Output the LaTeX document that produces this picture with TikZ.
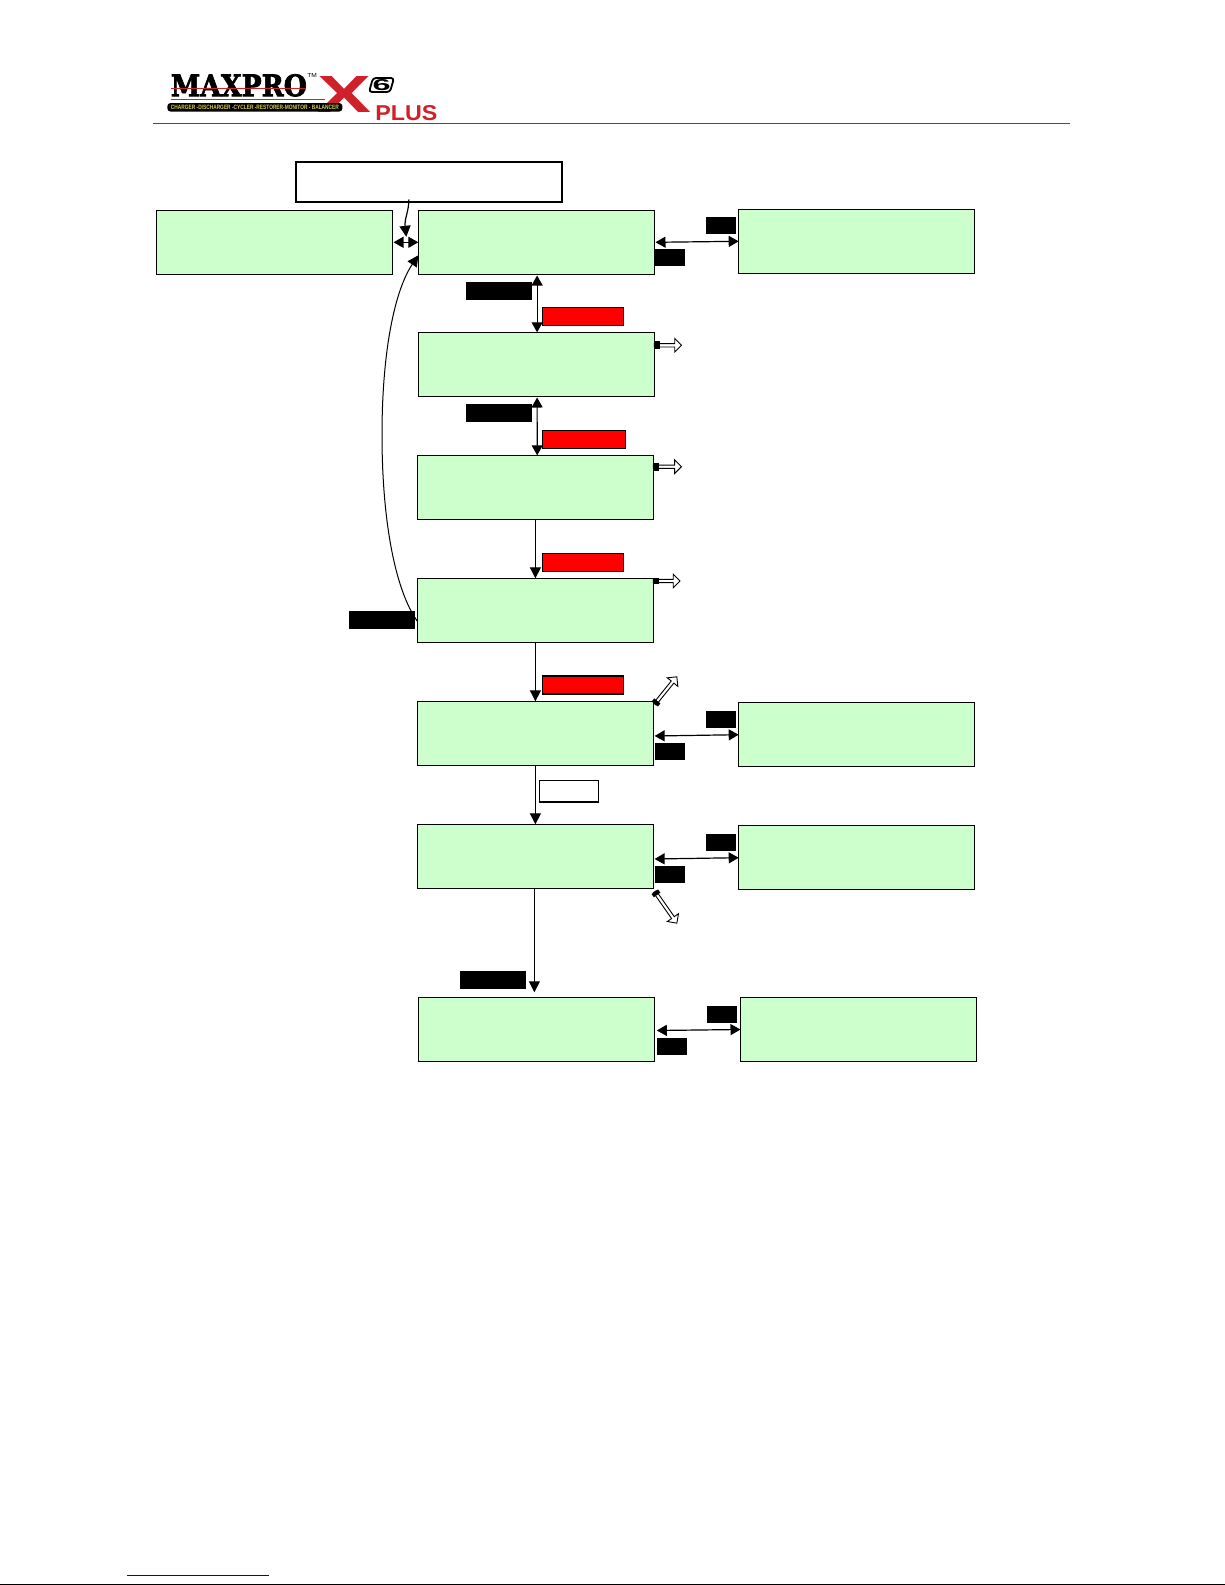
\documentclass[tikz,border=0pt]{standalone}
\usepackage{fontspec}
\usepackage{graphicx}
\setmainfont{Liberation Sans}
\newfontfamily\logofont[BoldFeatures={FakeBold=2.5}]{DejaVu Serif}
\usetikzlibrary{arrows.meta,shapes.arrows,calc}
\definecolor{lcdgreen}{HTML}{CCFFCC}
\definecolor{logored}{HTML}{D0202A}
\definecolor{tagyellow}{HTML}{D8D040}
\definecolor{linkblue}{HTML}{0000C8}
\tikzset{
  x=0.5pt,y=-0.5pt,
  screen/.style={draw=black,line width=0.75pt,fill=lcdgreen,minimum width=118pt,minimum height=32pt,inner sep=0pt,outer sep=0pt,anchor=north west},
  cover/.style={fill=black,inner sep=0pt,outer sep=0pt,anchor=north west},
  keyshort/.style={cover,minimum width=15pt,minimum height=8.7pt},
  keylong/.style={cover,minimum width=33pt,minimum height=9pt},
  redkey/.style={draw=black,line width=0.7pt,fill=red,inner sep=0pt,outer sep=0pt,anchor=north west,minimum width=40.5pt,minimum height=9pt},
  whitekey/.style={draw=black,line width=0.8pt,fill=white,inner sep=0pt,outer sep=0pt,anchor=north west},
  flow/.style={draw=black,line width=0.6pt,-{Triangle[length=5.5pt,width=5.5pt]}},
  both/.style={draw=black,line width=0.6pt,{Triangle[length=5pt,width=5.5pt]}-{Triangle[length=5pt,width=5.5pt]},shorten <=0.6pt},
  blockarrow/.style={single arrow,draw=black,line width=0.45pt,fill=white,inner sep=0pt,outer sep=0pt,minimum width=6.8pt,single arrow head extend=0.7pt,single arrow head indent=0pt,anchor=tail},
  tailbit/.style={fill=black,inner sep=0pt,outer sep=0pt,minimum width=2.6pt,minimum height=4pt,anchor=west},
}
\begin{document}
\begin{tikzpicture}
\useasboundingbox (0,0) rectangle (1225,1585);
\fill[white] (0,0) rectangle (1225,1585);

% logo
\node[inner sep=0pt,anchor=south west] (logoname) at (170.5,97) {\resizebox{68pt}{11pt}{\logofont\bfseries\textcolor{black}{MAXPRO}}};
\draw[logored,line width=0.5pt] (171,88) -- (306,88);
\draw[logored,line width=0.9pt] (171,99.5) -- (325,99.5);
\node[inner sep=0pt,anchor=south west] (logotm) at (307,78) {\resizebox{4.8pt}{2pt}{TM}};
\node[inner sep=0pt,anchor=south west] (logox) at (317,113) {\resizebox{27pt}{18pt}{\bfseries\textcolor{logored}{X}}};
\draw[black,line width=0.9pt,fill=white,rounded corners=1.5pt] (373,78) -- (394,78) -- (390,92) -- (369,92) -- cycle;
\node[inner sep=0pt] (logosix) at (381.5,85) {\resizebox{9pt}{5.5pt}{\bfseries 6}};
\node[inner sep=0pt,anchor=south west] (logoplus) at (375,121) {\resizebox{31pt}{7.5pt}{\bfseries\textcolor{logored}{PLUS}}};
\node[fill=black,rounded corners=1.5pt,inner sep=0pt,anchor=north west,minimum width=87.5pt,minimum height=4.2pt] (logotag) at (167,102.7) {\resizebox{84pt}{2.2pt}{\bfseries\textcolor{tagyellow}{CHARGER -DISCHARGER -CYCLER -RESTORER-MONITOR - BALANCER}}};

% header rule, footer
\draw[black!70,line width=0.6pt] (153,123.6) -- (1070,123.6);
\draw[linkblue,line width=0.5pt] (127,1575.7) -- (269,1575.7);
\draw[black,line width=0.6pt] (0,1584.4) -- (1225,1584.4);

% screens
\node[screen] (s0) at (156.3,210.3) {};
\node[screen] (s1) at (418.3,210.3) {};
\node[screen] (r1) at (738.7,209.3) {};
\node[screen] (s2) at (418.3,332.3) {};
\node[screen] (s3) at (417.4,455.3) {};
\node[screen] (s4) at (417.4,578.3) {};
\node[screen] (s5) at (417.4,701.3) {};
\node[screen] (r5) at (738.7,702.7) {};
\node[screen] (s6) at (417.4,824.3) {};
\node[screen] (r6) at (738.7,825.7) {};
\node[screen] (s7) at (418.4,997.3) {};
\node[screen] (r7) at (740.5,997.3) {};

% note box
\node[whitekey,line width=0.85pt,minimum width=133.2pt,minimum height=20.3pt] (note) at (295.7,161.7) {};

% vertical connectors
\draw[both] ([xshift=0.4pt]s1.south) -- ([xshift=0.4pt]s2.north);
\draw[both] ([xshift=0.4pt]s2.south) -- ([xshift=0.9pt]s3.north);
\draw[flow] (s3.south) -- (s4.north);
\draw[flow] (s4.south) -- (s5.north);
\draw[flow] (s5.south) -- (s6.north);
\draw[flow,line width=0.5pt,shorten >=2.5pt] ([xshift=-0.5pt]s6.south) -- ([xshift=-1pt]s7.north);

% horizontal connectors
\draw[both] (s0.east) -- (s1.west);
\draw[both] (s1.east) -- (r1.west);
\draw[both] ([yshift=-1.35pt]s5.east) -- (r5.west);
\draw[both] ([yshift=-1.35pt]s6.east) -- (r6.west);
\draw[both] ([xshift=0.6pt,yshift=-0.6pt]s7.east) -- ([yshift=-0.1pt]r7.west);

% note pointer
\coordinate (notefoot) at ($(note.south west)+(113.2,-3)$);
\coordinate (noteend) at ($(s0.east)+(14,-5.5)$);
\draw[flow] (notefoot) .. controls +(0,12) and +(-2,-18) .. (noteend);

% return curve
\coordinate (s4out) at ($(s4.west)+(0,11)$);
\coordinate (curvemid) at (382,435);
\coordinate (s1in) at ($(s1.west)+(0,13)$);
\draw[flow,line width=0.5pt] (s4out) .. controls (395,590) and (382,520) .. (curvemid) .. controls (382,350) and (395,290) .. (s1in);

% key covers
\node[keylong] (k1) at (466,282) {};
\node[redkey] (k2) at (542.7,307.3) {};
\node[keylong] (k3) at (466,404.3) {};
\node[redkey,minimum width=41.5pt] (k4) at (542.7,430.7) {};
\node[redkey] (k5) at (542.7,553.3) {};
\node[keylong] (k6) at (349,611) {};
\node[redkey] (k7) at (542.7,676) {};
\node[whitekey,minimum width=29.4pt,minimum height=10.7pt] (k8) at (539.5,780.3) {};
\node[keylong] (k9) at (460,971) {};
\node[keyshort] (ka) at (706,217) {};
\node[keyshort] (kb) at (655,249) {};
\node[keyshort] (kc) at (706,711) {};
\node[keyshort] (kd) at (655,743) {};
\node[keyshort] (ke) at (706,834) {};
\node[keyshort] (kf) at (655,866) {};
\node[keyshort] (kg) at (707,1006) {};
\node[keyshort] (kh) at (657,1038) {};

% block arrows
\node[blockarrow,minimum height=13.6pt] (a2) at ($(s2.north east)+(0,13)$) {};
\node[tailbit] (a2t) at (a2.tail) {};
\node[blockarrow,minimum height=14pt] (a3) at ($(s3.north east)+(0,11.4)$) {};
\node[tailbit] (a3t) at (a3.tail) {};
\node[blockarrow,minimum height=13.3pt] (a4) at ($(s4.north east)+(0,2.7)$) {};
\node[tailbit,minimum height=3pt] (a4t) at (a4.tail) {};
\node[blockarrow,minimum height=17.5pt,rotate=51] (a5) at ($(s5.north east)+(1.4,2.7)$) {};
\node[tailbit,rotate=51,minimum width=2pt] (a5t) at (a5.tail) {};
\node[blockarrow,minimum height=19.2pt,rotate=-55] (a6) at ($(s6.south east)+(1.4,3.4)$) {};
\node[tailbit,rotate=-55,minimum width=2pt] (a6t) at (a6.tail) {};
\end{tikzpicture}
\end{document}
